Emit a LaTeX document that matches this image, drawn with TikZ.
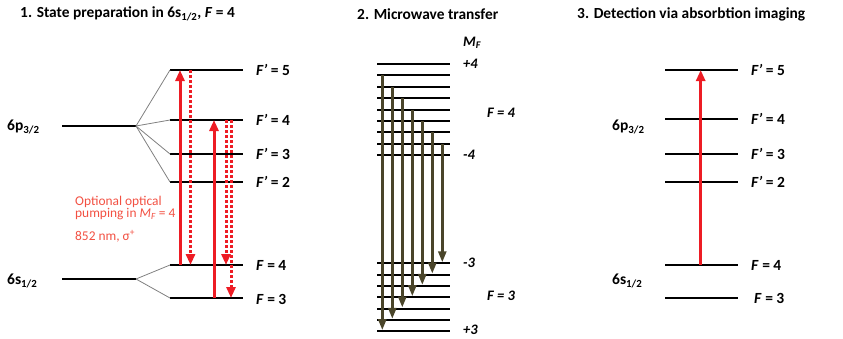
\documentclass[tikz,border=0pt]{standalone}
\usepackage{fontspec}
\setmainfont{Carlito}
\usetikzlibrary{arrows.meta}

\definecolor{pumpred}{RGB}{237,28,36}
\definecolor{notered}{RGB}{242,80,66}
\definecolor{mwolive}{RGB}{74,69,42}

\tikzset{
  level/.style={line width=2pt},
  fan/.style={gray, line width=0.8pt},
  pump/.style={pumpred, line width=3pt, -{Triangle[width=9pt,length=11pt]}},
  decay/.style={pumpred, line width=3pt, dash pattern=on 2.5pt off 2.5pt, -{Triangle[width=9pt,length=11pt]}},
  mw/.style={mwolive, line width=2.6pt, shorten >=1pt, -{Triangle[width=8pt,length=11pt]}},
  title/.style={font=\fontsize{15.4}{18}\selectfont\bfseries, inner sep=0pt, anchor=west},
  lbl/.style={font=\fontsize{15.5}{17}\selectfont\bfseries, inner sep=0pt, anchor=west},
  mflbl/.style={lbl, font=\fontsize{14.5}{16}\selectfont\bfseries\itshape},
  note/.style={font=\fontsize{13.4}{12.5}\selectfont, text=notered, inner sep=0pt, anchor=west, align=left}
}

\begin{document}
\begin{tikzpicture}[x=1pt, y=-1pt]
  \useasboundingbox (0,0) rectangle (843,338);

  % 1. state preparation
  \node[title] (t1) at (20,14) {1. State preparation in 6s\textsubscript{1/2}, \textit{F} = 4};
  \coordinate (p) at (136,126);   % 6p3/2 fine structure
  \coordinate (s) at (136,279);   % 6s1/2 fine structure
  \draw[level] (62,126) -- (p);
  \draw[level] (62,279) -- (s);
  \node[lbl] (p1) at (7,127) {6p\textsubscript{3/2}};
  \node[lbl] (s1) at (7,281) {6s\textsubscript{1/2}};
  \foreach \n/\y in {e5/70, e4/120, e3/154, e2/182, g4/265, g3/298} {
    \coordinate (\n) at (170,\y);
    \draw[level] (\n) -- ++(73,0);
  }
  \foreach \n in {e5,e4,e3,e2} \draw[fan] (p) -- (\n);
  \foreach \n in {g4,g3} \draw[fan] (s) -- (\n);
  \node[lbl] (le5) at (256,70)  {\textit{F’} = 5};
  \node[lbl] (le4) at (256,120) {\textit{F’} = 4};
  \node[lbl] (le3) at (256,154) {\textit{F’} = 3};
  \node[lbl] (le2) at (256,182) {\textit{F’} = 2};
  \node[lbl] (lg4) at (256,265) {\textit{F} = 4};
  \node[lbl] (lg3) at (256,299) {\textit{F} = 3};

  \draw[pump]  ([xshift=10pt]g4) -- ([xshift=10pt]e5);
  \draw[decay] ([xshift=20.5pt]e5) -- ([xshift=20.5pt]g4);
  \draw[pump]  ([xshift=44pt]g3) -- ([xshift=44pt]e4);
  \draw[decay] ([xshift=56pt]e4) -- ([xshift=56pt]g4);
  \draw[decay] ([xshift=61pt]e4) -- ([xshift=61pt]g3);

  \node[note] (n1) at (75,208) {Optional optical\\pumping in \textit{M\textsubscript{F}} = 4};
  \node[note] (n2) at (75,236) {852 nm, σ\textsuperscript{+}};

  % 2. microwave transfer
  \node[title] (t2) at (357,14) {2. Microwave transfer};
  \foreach \i in {0,...,8} {
    \coordinate (a\i) at (377,64+11.4*\i);   % F = 4, mF = +4 ... -4
    \draw[level] (a\i) -- ++(73,0);
  }
  \foreach \j in {0,...,6} {
    \coordinate (b\j) at (377,263.3+11.3*\j);   % F = 3, mF = -3 ... +3
    \draw[level] (b\j) -- ++(73,0);
  }
  \foreach \i in {1,...,7} {
    \pgfmathtruncatemacro{\j}{7-\i}
    \pgfmathsetmacro{\dx}{5.3+10*(\i-1)}
    \draw[mw] ([xshift=\dx pt]a\i) -- ([xshift=\dx pt]b\j);
  }
  \node[mflbl] (mf) at (463,43) {M\textsubscript{F}};
  \node[mflbl] (m4) at (463,64) {+4};
  \node[mflbl] (n4) at (463,155) {-4};
  \node[mflbl] (f4) at (487,113) {F = 4};
  \node[mflbl] (n3) at (463,263) {-3};
  \node[mflbl] (m3) at (463,329.5) {+3};
  \node[mflbl] (f3) at (487,296) {F = 3};

  % 3. detection
  \node[title] (t3) at (577,14) {3. Detection via absorbtion imaging};
  \foreach \n/\y in {E5/70, E4/119, E3/154, E2/182, G4/265, G3/298} {
    \coordinate (\n) at (665,\y);
    \draw[level] (\n) -- ++(73,0);
  }
  \node[lbl] (p3) at (612,127) {6p\textsubscript{3/2}};
  \node[lbl] (s3) at (612,281) {6s\textsubscript{1/2}};
  \node[lbl] (lE5) at (751,70)  {\textit{F’} = 5};
  \node[lbl] (lE4) at (751,119) {\textit{F’} = 4};
  \node[lbl] (lE3) at (751,154) {\textit{F’} = 3};
  \node[lbl] (lE2) at (751,182) {\textit{F’} = 2};
  \node[lbl] (lG4) at (751,265) {\textit{F} = 4};
  \node[lbl] (lG3) at (754,298) {\textit{F} = 3};
  \draw[pump] ([xshift=35.7pt]G4) -- ([xshift=35.7pt]E5);
\end{tikzpicture}
\end{document}
